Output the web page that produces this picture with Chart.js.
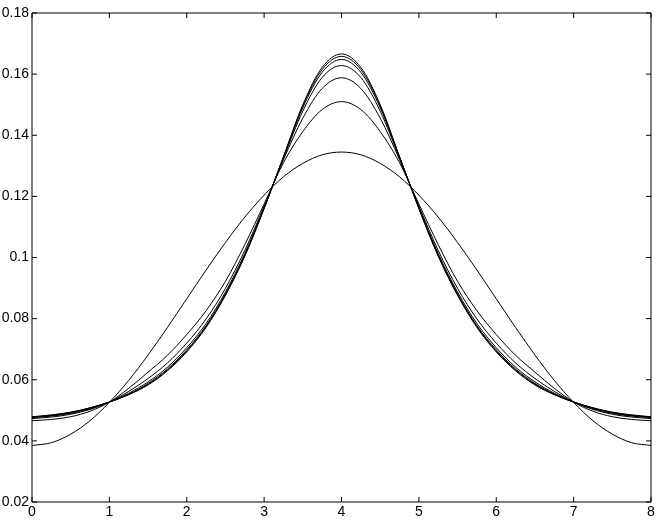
<!DOCTYPE html>
<html>
<head>
<meta charset="utf-8">
<script src="https://cdn.jsdelivr.net/npm/chart.js@4/dist/chart.umd.min.js"></script>
<style>
  html, body { margin: 0; padding: 0; background: #fff; }
  #wrap { width: 661px; height: 520px; }
</style>
</head>
<body>
<div id="wrap"><canvas id="c" width="661" height="520"></canvas></div>
<script>
// x positions (shared by all curves)
const xValues = [0, 0.25, 0.5, 0.75, 1, 1.25, 1.5, 1.75, 2, 2.25, 2.5, 2.75, 3, 3.25, 3.5, 3.75, 4,
                 4.25, 4.5, 4.75, 5, 5.25, 5.5, 5.75, 6, 6.25, 6.5, 6.75, 7, 7.25, 7.5, 7.75, 8];

// curve values
const curve1 = [0.0385, 0.0394, 0.0422, 0.0466, 0.0526, 0.0598, 0.0681, 0.0771, 0.0865, 0.0959, 0.1049, 0.1132, 0.1204, 0.1264, 0.1308, 0.1336, 0.1345,
                0.1336, 0.1308, 0.1264, 0.1204, 0.1132, 0.1049, 0.0959, 0.0865, 0.0771, 0.0681, 0.0598, 0.0526, 0.0466, 0.0422, 0.0394, 0.0385];
const curve2 = [0.0466, 0.0470, 0.0479, 0.0497, 0.0527, 0.0572, 0.0625, 0.0680, 0.0748, 0.0826, 0.0922, 0.1042, 0.1175, 0.1310, 0.1412, 0.1484, 0.1510,
                0.1484, 0.1412, 0.1310, 0.1175, 0.1042, 0.0922, 0.0826, 0.0748, 0.0680, 0.0625, 0.0572, 0.0527, 0.0497, 0.0479, 0.0470, 0.0466];
const curve3 = [0.0473, 0.0478, 0.0487, 0.0503, 0.0527, 0.0562, 0.0604, 0.0655, 0.0720, 0.0799, 0.0899, 0.1023, 0.1168, 0.1320, 0.1456, 0.1553, 0.1588,
                0.1553, 0.1456, 0.1320, 0.1168, 0.1023, 0.0899, 0.0799, 0.0720, 0.0655, 0.0604, 0.0562, 0.0527, 0.0503, 0.0487, 0.0478, 0.0473];
const curve4 = [0.0476, 0.0481, 0.0490, 0.0505, 0.0527, 0.0556, 0.0593, 0.0641, 0.0705, 0.0784, 0.0887, 0.1013, 0.1164, 0.1325, 0.1479, 0.1589, 0.1628,
                0.1589, 0.1479, 0.1325, 0.1164, 0.1013, 0.0887, 0.0784, 0.0705, 0.0641, 0.0593, 0.0556, 0.0527, 0.0505, 0.0490, 0.0481, 0.0476];
const curve5 = [0.0478, 0.0483, 0.0492, 0.0507, 0.0527, 0.0553, 0.0588, 0.0635, 0.0698, 0.0777, 0.0881, 0.1008, 0.1162, 0.1328, 0.1490, 0.1606, 0.1648,
                0.1606, 0.1490, 0.1328, 0.1162, 0.1008, 0.0881, 0.0777, 0.0698, 0.0635, 0.0588, 0.0553, 0.0527, 0.0507, 0.0492, 0.0483, 0.0478];
const curve6 = [0.0478, 0.0484, 0.0493, 0.0508, 0.0527, 0.0552, 0.0585, 0.0632, 0.0694, 0.0774, 0.0878, 0.1006, 0.1161, 0.1329, 0.1496, 0.1615, 0.1658,
                0.1615, 0.1496, 0.1329, 0.1161, 0.1006, 0.0878, 0.0774, 0.0694, 0.0632, 0.0585, 0.0552, 0.0527, 0.0508, 0.0493, 0.0484, 0.0478];
const curve7 = [0.0479, 0.0485, 0.0494, 0.0508, 0.0527, 0.0551, 0.0583, 0.0629, 0.0691, 0.0771, 0.0876, 0.1004, 0.1160, 0.1330, 0.1500, 0.1622, 0.1666,
                0.1622, 0.1500, 0.1330, 0.1160, 0.1004, 0.0876, 0.0771, 0.0691, 0.0629, 0.0583, 0.0551, 0.0527, 0.0508, 0.0494, 0.0485, 0.0479];

// tick labels
const xTickValues = [0, 1, 2, 3, 4, 5, 6, 7, 8];
const yTickValues = [0.02, 0.04, 0.06, 0.08, 0.1, 0.12, 0.14, 0.16, 0.18];

const allCurves = [curve1, curve2, curve3, curve4, curve5, curve6, curve7];

const datasets = allCurves.map((vals, i) => ({
  label: 'curve ' + (i + 1),
  data: vals.map((v, j) => ({ x: xValues[j], y: v })),
  borderColor: '#000',
  borderWidth: 1,
  pointRadius: 0,
  fill: false,
  cubicInterpolationMode: 'monotone'
}));

const frameTicks = {
  id: 'frameTicks',
  afterDraw(chart) {
    const ctx = chart.ctx;
    const xs = chart.scales.x, ys = chart.scales.y;
    const a = chart.chartArea;
    const L = 5;
    ctx.save();
    ctx.strokeStyle = '#000';
    ctx.lineWidth = 1;
    ctx.beginPath();
    ctx.rect(a.left, a.top, a.right - a.left, a.bottom - a.top);
    xTickValues.forEach(v => {
      const px = xs.getPixelForValue(v);
      ctx.moveTo(px, a.bottom); ctx.lineTo(px, a.bottom - L);
      ctx.moveTo(px, a.top); ctx.lineTo(px, a.top + L);
    });
    yTickValues.forEach(v => {
      const py = ys.getPixelForValue(v);
      ctx.moveTo(a.left, py); ctx.lineTo(a.left + L, py);
      ctx.moveTo(a.right, py); ctx.lineTo(a.right - L, py);
    });
    ctx.stroke();
    ctx.restore();
  }
};

new Chart(document.getElementById('c'), {
  type: 'line',
  data: { datasets },
  options: {
    responsive: false,
    animation: false,
    layout: { padding: { top: 13, right: 10, left: 0, bottom: 0 } },
    plugins: { legend: { display: false }, tooltip: { enabled: false } },
    scales: {
      x: {
        type: 'linear', min: 0, max: 8,
        afterBuildTicks: s => { s.ticks = xTickValues.map(v => ({ value: v })); },
        afterFit: s => { s.height = 18; },
        grid: { display: false, drawTicks: false },
        border: { display: false },
        ticks: {
          color: '#000', padding: 2, maxRotation: 0, autoSkip: false,
          font: { family: 'Liberation Sans, Arial, sans-serif', size: 14 },
          callback: v => String(v)
        }
      },
      y: {
        type: 'linear', min: 0.02, max: 0.18,
        afterBuildTicks: s => { s.ticks = yTickValues.map(v => ({ value: v })); },
        afterFit: s => { s.width = 32; },
        grid: { display: false, drawTicks: false },
        border: { display: false },
        ticks: {
          color: '#000', padding: 3, autoSkip: false,
          font: { family: 'Liberation Sans, Arial, sans-serif', size: 14 },
          callback: v => String(Number(v.toFixed(2)))
        }
      }
    }
  },
  plugins: [frameTicks]
});
</script>
</body>
</html>
